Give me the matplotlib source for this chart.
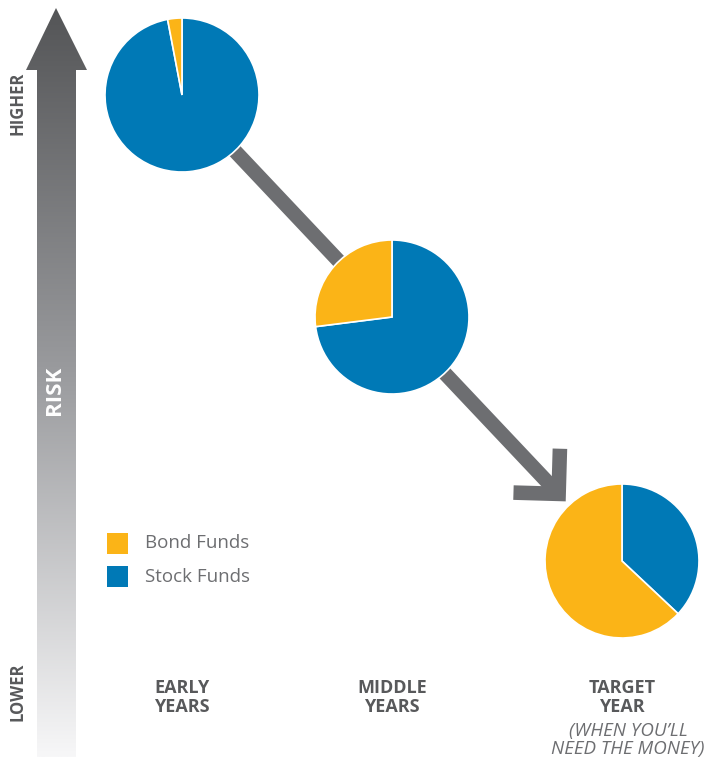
import numpy as np
import matplotlib.pyplot as plt
from matplotlib.patches import Polygon, FancyArrowPatch, Rectangle
from matplotlib.colors import LinearSegmentedColormap

plt.rcParams['font.family'] = ['Open Sans', 'DejaVu Sans']

# data
stages = ['EARLY\nYEARS', 'MIDDLE\nYEARS', 'TARGET\nYEAR']
stage_note = ['', '', '(WHEN YOU\u2019LL\nNEED THE MONEY)']
bond_pct = [3, 27, 63]
stock_pct = [97, 73, 37]
series = ['Bond Funds', 'Stock Funds']
colors = ['#FBB417', '#0079B6']

# layout (pixels, y measured from top)
W, H = 705, 762
pie_x = [182, 392, 622]
pie_y = [95, 317, 561]
r = 77
gray = '#58595B'

fig = plt.figure(figsize=(W / 100, H / 100), dpi=100)
ax = fig.add_axes([0, 0, 1, 1])

# risk arrow on the left with gradient
arrow_pts = [(56, 8), (87, 70), (76, 70), (76, 757), (37, 757), (37, 70), (26, 70)]
poly = Polygon([(x, H - y) for x, y in arrow_pts], closed=True, facecolor='none', edgecolor='none')
ax.add_patch(poly)
cmap = LinearSegmentedColormap.from_list('risk', [(0, '#545557'), (0.5, '#9C9DA0'), (1, '#F7F7F8')])
grad = np.linspace(0, 1, 256).reshape(-1, 1)
im = ax.imshow(grad, cmap=cmap, extent=[26, 87, H - 757, H - 8], aspect='auto', zorder=1)
im.set_clip_path(poly)

ax.text(55, H - 390, 'RISK', rotation=90, ha='center', va='center', color='white',
        fontsize=16, fontweight='bold', zorder=3)
ax.text(17, H - 103, 'HIGHER', rotation=90, ha='center', va='center', color=gray,
        fontsize=12, fontweight='bold')
ax.text(17, H - 692, 'LOWER', rotation=90, ha='center', va='center', color=gray,
        fontsize=12, fontweight='bold')

# diagonal glide path arrow
x0, y0 = pie_x[0], H - pie_y[0]
x2, y2 = pie_x[-1], H - pie_y[-1]
d = np.hypot(x2 - x0, y2 - y0)
ux, uy = (x2 - x0) / d, (y2 - y0) / d
end = (x2 - ux * (r + 5), y2 - uy * (r + 5))
arr = FancyArrowPatch((x0, y0), end, arrowstyle='->,head_length=23,head_width=23',
                      mutation_scale=1, linewidth=10.5, color='#6D6E71',
                      joinstyle='miter', capstyle='butt', shrinkA=0, shrinkB=0, zorder=2)
ax.add_patch(arr)

# pies
for i in range(len(stages)):
    ax.pie([stock_pct[i], bond_pct[i]], colors=[colors[1], colors[0]],
           center=(pie_x[i], H - pie_y[i]), radius=r, startangle=90, counterclock=False,
           wedgeprops=dict(edgecolor='white', linewidth=1.2, zorder=4))
    ax.text(pie_x[i], H - 679, stages[i], ha='center', va='top', color=gray,
            fontsize=13, fontweight='bold', linespacing=1.05)
    if stage_note[i]:
        ax.text(pie_x[i] + 6, H - 722, stage_note[i], ha='center', va='top', color='#6D6E71',
                fontsize=13.5, fontstyle='italic', linespacing=1.0)

# legend
for j, name in enumerate(series):
    yy = 533 + j * 33
    ax.add_patch(Rectangle((107, H - yy - 21), 21, 21, facecolor=colors[j], edgecolor='none'))
    ax.text(145, H - yy - 10.5, name, ha='left', va='center', color='#6D6E71', fontsize=13.5)

ax.set_xlim(0, W)
ax.set_ylim(0, H)
ax.set_aspect('auto')
ax.axis('off')

plt.savefig('out.png', dpi=100)
